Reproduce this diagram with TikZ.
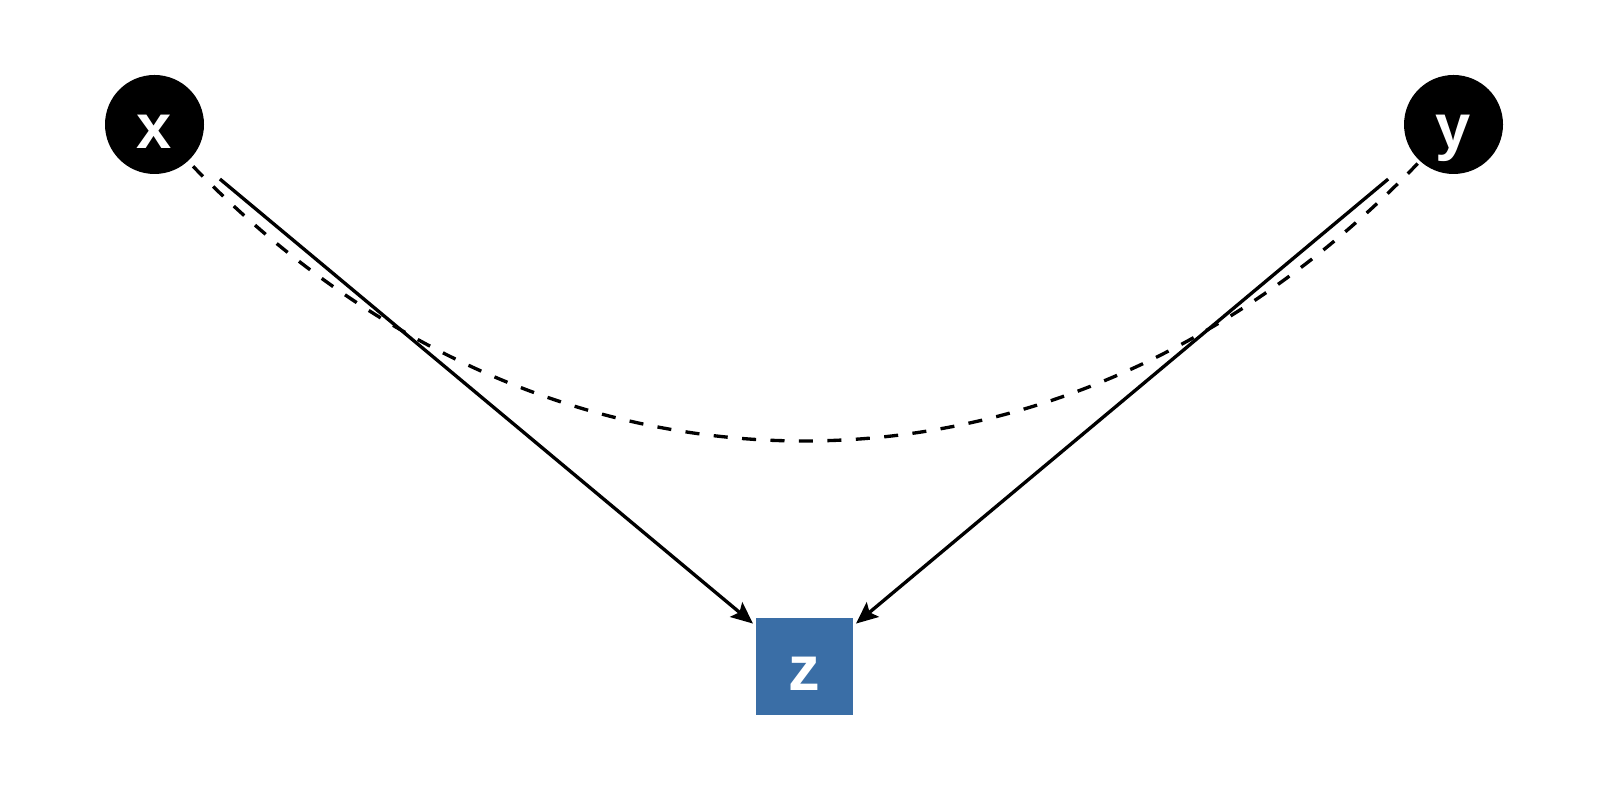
\documentclass[tikz,border=0pt]{standalone}
\usepackage{fontspec}
\setmainfont{Liberation Sans}
\usetikzlibrary{shapes.geometric,arrows.meta,positioning}
\definecolor{zblue}{RGB}{58,110,166}
\pgfdeclarelayer{background}
\pgfsetlayers{background,main}

\begin{document}
\begin{tikzpicture}[line width=0.95pt, >={Stealth[length=6.2pt,width=5.4pt,inset=1.2pt]},
    var/.style={circle, fill=black, text=white, inner sep=0pt, minimum size=0.99cm,
        font=\fontsize{18}{20}\selectfont\bfseries, text height=0.58cm, text depth=0.1cm},
    target/.style={rectangle, fill=zblue, text=white, inner sep=0pt, minimum size=0.97cm,
        font=\fontsize{18}{20}\selectfont\bfseries, text height=0.58cm, text depth=0.1cm}]
        \useasboundingbox (0,0) rectangle (16,8);
        \node[var] (x) at (1.545,6.755) {x};
        \node[var] (y) at (14.535,6.755) {y};
        \node[target] (z) at (8.045,1.335) {z};

        \path[->, shorten <=0.34cm, shorten >=0.5pt]
            (x) edge (z)
            (y) edge (z);
        \begin{pgfonlayer}{background}
        \draw[line width=0.95pt, dash pattern=on 4pt off 4.1pt]
            (x.center) .. controls (5.235,2.535) and (10.845,2.535) .. (y.center);
        \end{pgfonlayer}
    \end{tikzpicture}
\end{document}
